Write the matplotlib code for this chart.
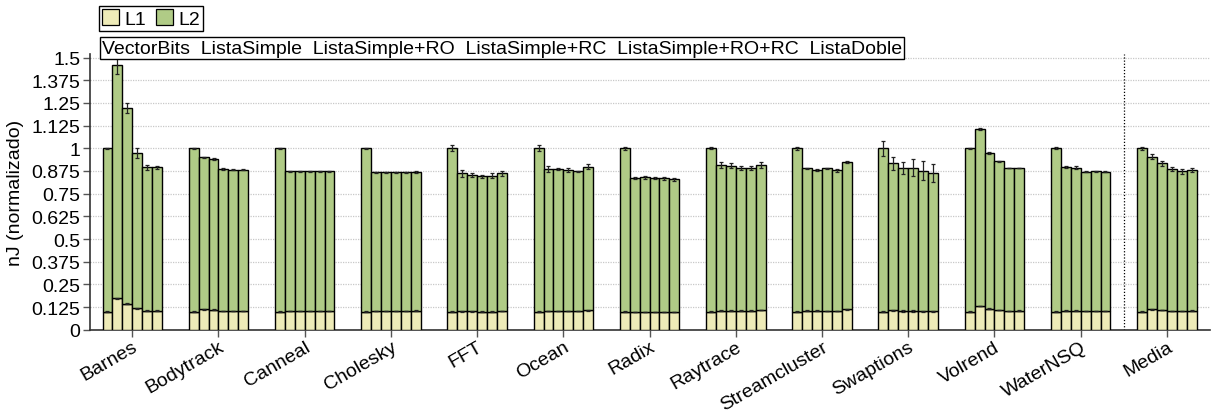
import numpy as np
import matplotlib.pyplot as plt
import matplotlib.transforms as mtransforms
from matplotlib.patches import Patch

plt.rcParams['font.family'] = ['Liberation Sans', 'DejaVu Sans']
plt.rcParams['font.size'] = 14.0

benchmarks = ["Barnes", "Bodytrack", "Canneal", "Cholesky", "FFT", "Ocean", "Radix",
              "Raytrace", "Streamcluster", "Swaptions", "Volrend", "WaterNSQ", "Media"]
series = ["VectorBits", "ListaSimple", "ListaSimple+RO", "ListaSimple+RC",
          "ListaSimple+RO+RC", "ListaDoble"]

# total energy (L1 + L2), normalized to VectorBits, one row per benchmark
total = [
    [1.0, 1.461, 1.222, 0.974, 0.895, 0.895],
    [1.0, 0.950, 0.941, 0.886, 0.882, 0.882],
    [1.0, 0.873, 0.873, 0.873, 0.873, 0.873],
    [1.0, 0.868, 0.868, 0.868, 0.867, 0.871],
    [1.0, 0.862, 0.853, 0.846, 0.849, 0.862],
    [1.0, 0.886, 0.888, 0.882, 0.873, 0.899],
    [1.0, 0.835, 0.840, 0.835, 0.836, 0.829],
    [1.0, 0.908, 0.904, 0.893, 0.893, 0.908],
    [1.0, 0.890, 0.881, 0.890, 0.879, 0.923],
    [1.0, 0.917, 0.892, 0.893, 0.877, 0.864],
    [1.0, 1.107, 0.974, 0.928, 0.892, 0.892],
    [1.0, 0.897, 0.893, 0.871, 0.873, 0.871],
    [1.0, 0.954, 0.917, 0.886, 0.873, 0.880],
]
total_err = [
    [0.004, 0.050, 0.027, 0.027, 0.012, 0.008],
    [0.003, 0.004, 0.004, 0.003, 0.002, 0.002],
    [0.002, 0.002, 0.002, 0.002, 0.002, 0.002],
    [0.003, 0.003, 0.003, 0.003, 0.003, 0.006],
    [0.016, 0.021, 0.012, 0.008, 0.015, 0.012],
    [0.016, 0.017, 0.005, 0.010, 0.004, 0.012],
    [0.007, 0.006, 0.008, 0.006, 0.008, 0.008],
    [0.006, 0.015, 0.015, 0.012, 0.012, 0.014],
    [0.008, 0.004, 0.005, 0.004, 0.007, 0.005],
    [0.040, 0.037, 0.032, 0.046, 0.053, 0.050],
    [0.002, 0.006, 0.003, 0.003, 0.002, 0.002],
    [0.005, 0.006, 0.008, 0.003, 0.003, 0.003],
    [0.010, 0.015, 0.012, 0.012, 0.012, 0.010],
]
# L1 part of the energy
l1 = [
    [0.099, 0.173, 0.143, 0.118, 0.105, 0.105],
    [0.099, 0.112, 0.110, 0.103, 0.103, 0.103],
    [0.099, 0.103, 0.103, 0.103, 0.103, 0.103],
    [0.099, 0.103, 0.103, 0.103, 0.103, 0.105],
    [0.099, 0.101, 0.101, 0.099, 0.099, 0.103],
    [0.099, 0.103, 0.103, 0.103, 0.103, 0.107],
    [0.099, 0.097, 0.097, 0.097, 0.097, 0.097],
    [0.099, 0.105, 0.105, 0.105, 0.105, 0.108],
    [0.099, 0.105, 0.105, 0.103, 0.103, 0.112],
    [0.099, 0.107, 0.103, 0.103, 0.101, 0.101],
    [0.099, 0.131, 0.116, 0.108, 0.103, 0.105],
    [0.099, 0.105, 0.105, 0.103, 0.103, 0.103],
    [0.099, 0.112, 0.108, 0.103, 0.103, 0.105],
]
l1_err = [
    [0.002, 0.003, 0.003, 0.002, 0.002, 0.002],
    [0.002, 0.002, 0.002, 0.002, 0.002, 0.002],
    [0.002, 0.002, 0.002, 0.002, 0.002, 0.002],
    [0.002, 0.002, 0.002, 0.002, 0.002, 0.002],
    [0.002, 0.002, 0.002, 0.002, 0.002, 0.002],
    [0.002, 0.002, 0.002, 0.002, 0.002, 0.002],
    [0.002, 0.002, 0.002, 0.002, 0.002, 0.002],
    [0.002, 0.002, 0.002, 0.002, 0.002, 0.002],
    [0.002, 0.002, 0.002, 0.002, 0.002, 0.002],
    [0.002, 0.004, 0.004, 0.004, 0.004, 0.004],
    [0.002, 0.002, 0.002, 0.002, 0.002, 0.002],
    [0.002, 0.002, 0.002, 0.002, 0.002, 0.002],
    [0.002, 0.002, 0.002, 0.002, 0.002, 0.002],
]
yticks = [0, 0.125, 0.25, 0.375, 0.5, 0.625, 0.75, 0.875, 1, 1.125, 1.25, 1.375, 1.5]
ytick_labels = ["0", "0.125", "0.25", "0.375", "0.5", "0.625", "0.75", "0.875",
                "1", "1.125", "1.25", "1.375", "1.5"]

c_l1 = "#eeebb8"
c_l2 = "#b0cb86"

total = np.array(total)
total_err = np.array(total_err)
l1 = np.array(l1)
l1_err = np.array(l1_err)
l2 = total - l1

fig = plt.figure(figsize=(12.11, 4.14), dpi=100)
ax = fig.add_axes([90 / 1211, 1 - 330.7 / 414, 1120 / 1211, 275.7 / 414])

x = np.arange(len(benchmarks))
n = len(series)
w = 0.115
for i in range(n):
    pos = x + (i - (n - 1) / 2) * w
    ax.bar(pos, l1[:, i], w, color=c_l1, edgecolor="black", linewidth=1, zorder=3)
    ax.bar(pos, l2[:, i], w, bottom=l1[:, i], color=c_l2, edgecolor="black",
           linewidth=1, zorder=3)
    ax.errorbar(pos, l1[:, i], yerr=l1_err[:, i], fmt="none", ecolor="#222222",
                elinewidth=0.9, capsize=1.6, capthick=0.9, zorder=4)
    ax.errorbar(pos, total[:, i], yerr=total_err[:, i], fmt="none", ecolor="#222222",
                elinewidth=0.9, capsize=1.6, capthick=0.9, zorder=4)

# separator before the average group
ax.axvline(len(benchmarks) - 1.5, color="black", linestyle=(0, (1, 1.5)),
           linewidth=0.9, zorder=2)

ax.set_xlim(-0.49, len(benchmarks) - 0.5)
ax.set_ylim(0, 1.52)
ax.set_yticks(yticks)
ax.set_yticklabels(ytick_labels)
ax.set_xticks(x)
ax.set_xticklabels(benchmarks, rotation=30, ha="right", rotation_mode="anchor")
shift = mtransforms.ScaledTranslation(8 / 100, 0, fig.dpi_scale_trans)
for lab in ax.get_xticklabels():
    lab.set_transform(lab.get_transform() + shift)
ax.tick_params(axis="both", direction="out", length=5, width=1, color="#555555", pad=2)
ax.tick_params(axis="x", pad=1)
ax.yaxis.grid(True, color="#c8c8c8", linestyle=(0, (1, 1)), linewidth=0.9, zorder=0)
ax.set_axisbelow(True)
for s in ["top", "right"]:
    ax.spines[s].set_visible(False)
for s in ["left", "bottom"]:
    ax.spines[s].set_color("#333333")
    ax.spines[s].set_linewidth(1.2)
ax.set_ylabel("nJ (normalizado)", labelpad=5)

# legend for the stacked levels
handles = [Patch(facecolor=c_l1, edgecolor="black", linewidth=0.9, label="L1"),
           Patch(facecolor=c_l2, edgecolor="black", linewidth=0.9, label="L2")]
fig.legend(handles=handles, loc="upper left", bbox_to_anchor=(99 / 1211, 1 - 7 / 414),
           ncol=2, frameon=True, fancybox=False, edgecolor="black", framealpha=1,
           borderaxespad=0, borderpad=0.15, handlelength=0.9, handleheight=0.9,
           handletextpad=0.25, columnspacing=0.5)
leg = fig.legends[0]
leg.get_frame().set_linewidth(1)

# order of the bars inside each group
fig.text(102 / 1211, 1 - 49 / 414, "  ".join(series), ha="left", va="center",
         bbox=dict(boxstyle="square,pad=0.12", facecolor="white", edgecolor="black",
                   linewidth=1))

fig.savefig("out.png", dpi=100)
